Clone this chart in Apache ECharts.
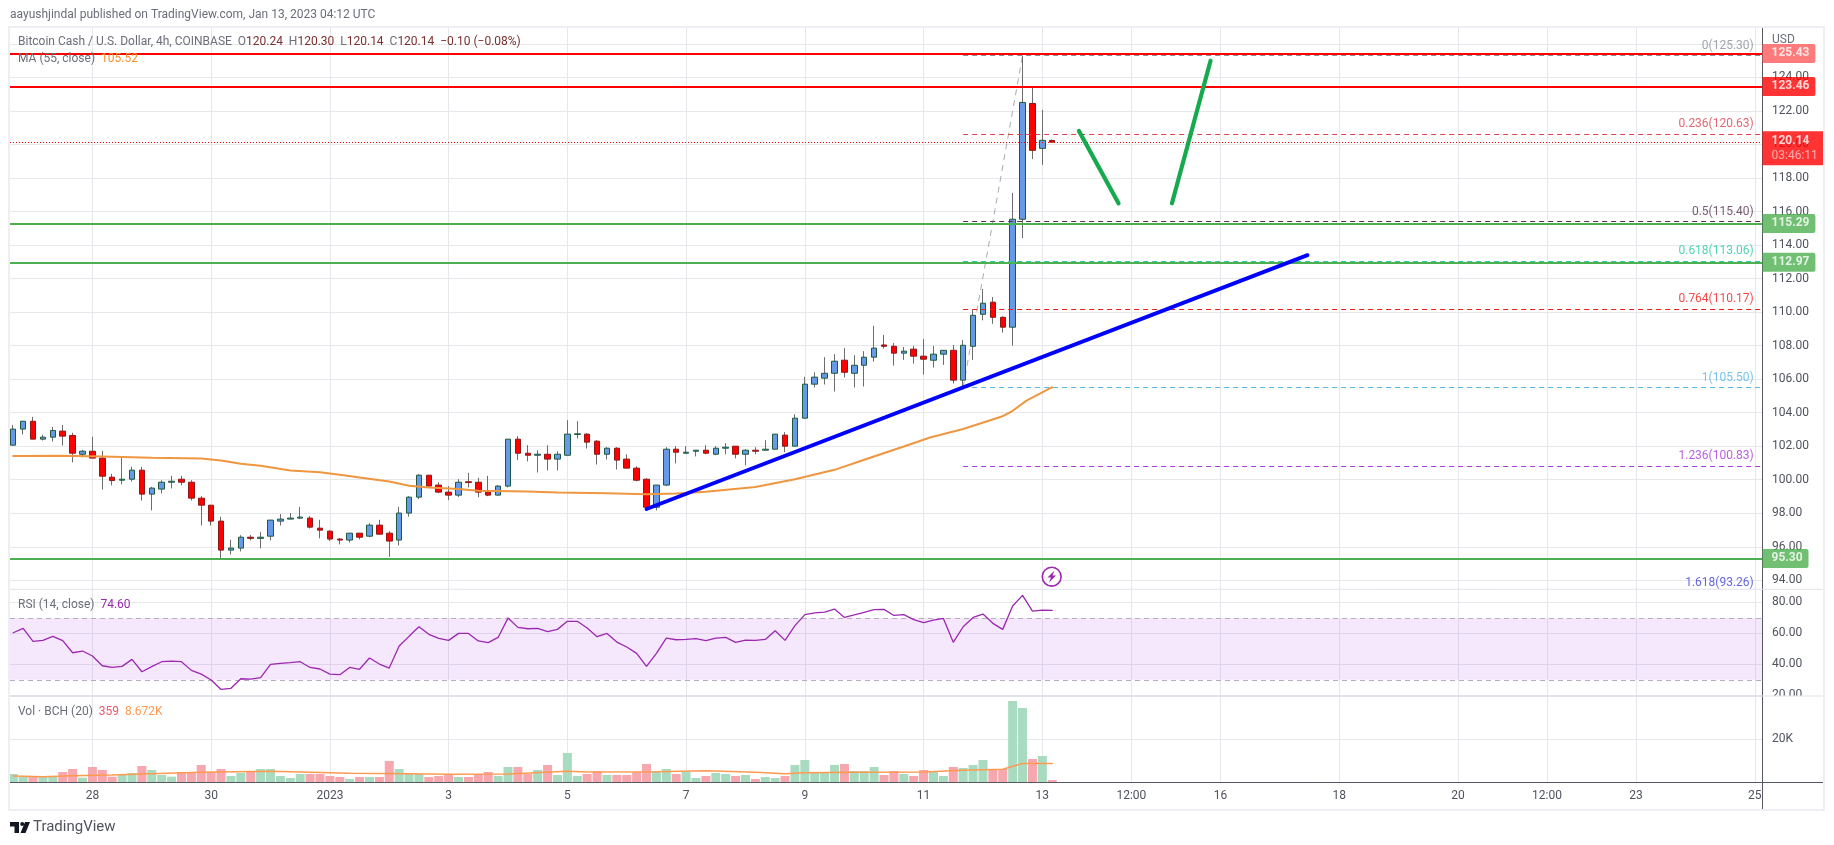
<!DOCTYPE html>
<html>
<head>
<meta charset="utf-8">
<title>BCH/USD 4h</title>
<style>
  html, body { margin: 0; padding: 0; background: #fff; }
  #chart { width: 1834px; height: 845px; }
</style>
<script src="https://cdn.jsdelivr.net/npm/echarts@6/dist/echarts.min.js"></script>
</head>
<body>
<div id="chart"></div>
<script>
// 4h candles, one row per bar
const opens = [102.06,103.02,103.49,102.42,102.54,102.90,102.64,101.52,101.70,101.29,100.15,99.97,100.03,100.57,99.14,99.44,99.85,100.03,99.85,98.90,98.48,97.53,95.80,95.92,96.57,96.50,96.63,97.53,97.65,97.71,97.71,97.11,96.93,96.46,96.40,96.81,96.63,97.29,96.81,96.40,98.01,98.96,100.27,99.68,99.26,99.08,99.88,99.85,99.26,99.08,99.62,102.42,101.58,101.46,101.52,101.23,101.46,102.70,102.72,102.30,101.52,101.88,101.23,100.69,100.03,98.36,99.68,101.82,101.58,101.70,101.76,101.52,101.88,102.00,101.52,101.76,101.76,101.82,102.66,102.00,103.67,105.70,106.06,106.35,107.13,106.35,106.83,107.31,108.04,107.96,107.55,107.79,107.37,107.13,107.49,107.72,105.94,107.96,109.87,110.59,109.69,109.10,115.54,122.45,119.77,120.24];
const highs = [103.27,103.49,103.75,102.68,103.15,103.27,102.80,101.78,102.56,101.72,100.35,101.33,100.77,100.77,99.58,99.97,100.23,100.23,99.97,99.02,98.48,97.79,96.42,96.69,96.71,96.87,97.59,97.95,98.01,98.38,97.83,97.61,96.99,96.51,96.81,96.81,97.41,97.61,96.93,98.38,99.02,100.33,100.27,99.85,99.62,100.03,100.41,100.11,100.23,99.68,102.42,102.60,102.06,101.76,102.06,101.70,103.55,103.49,102.78,102.36,101.94,101.94,101.52,100.81,100.09,99.68,101.94,102.00,102.00,101.76,102.06,102.00,102.18,102.00,101.82,101.94,102.36,102.72,102.84,103.91,106.14,106.41,107.31,107.49,107.85,107.43,107.67,109.18,108.64,108.16,107.92,107.98,108.40,107.98,107.72,108.04,108.34,110.13,111.38,110.90,109.75,117.11,125.30,123.45,122.06,120.30];
const lows = [102.06,102.70,102.42,102.34,102.28,102.04,101.03,101.33,101.29,99.42,99.66,99.72,99.89,98.76,98.17,99.18,99.48,99.66,98.76,97.27,97.27,95.24,95.54,95.72,96.38,95.90,96.38,97.27,97.65,97.65,97.09,96.50,96.34,96.14,96.26,96.44,96.57,96.75,95.40,96.08,97.79,98.84,99.62,99.20,98.78,98.96,99.54,98.96,99.02,99.08,99.54,101.17,101.09,100.43,100.55,100.55,101.46,102.46,101.86,100.91,101.21,100.61,100.69,99.91,98.36,98.17,99.62,100.97,101.56,101.39,101.52,101.46,101.52,101.27,100.85,101.52,101.76,101.82,101.64,102.00,103.67,105.50,105.68,105.26,106.10,105.50,105.56,107.05,107.82,106.81,107.15,106.93,106.27,106.69,106.85,105.74,105.50,107.15,109.51,109.30,108.78,108.00,114.42,119.13,118.78,120.14];
const closes = [103.02,103.49,102.42,102.54,102.94,102.60,101.58,101.70,101.29,100.21,99.95,100.03,100.57,99.14,99.50,99.85,99.91,99.85,98.90,98.48,97.53,95.80,95.92,96.57,96.50,96.57,97.59,97.65,97.71,97.77,97.17,96.99,96.46,96.40,96.81,96.57,97.29,96.75,96.34,98.01,98.96,100.27,99.62,99.26,99.08,99.85,99.83,99.26,99.08,99.62,102.42,101.58,101.46,101.52,101.23,101.52,102.72,102.74,102.24,101.52,101.88,101.17,100.69,99.97,98.36,99.68,101.82,101.64,101.64,101.76,101.58,101.88,101.94,101.52,101.76,101.70,101.82,102.72,102.00,103.67,105.70,106.12,106.35,107.07,106.41,106.83,107.31,107.85,107.96,107.55,107.67,107.37,107.19,107.49,107.72,105.94,108.02,109.81,110.53,109.69,109.10,115.54,122.51,119.65,120.25,120.14];
const volumes = [3750,2500,2500,2500,2500,4680,6090,2030,7030,5620,2500,3280,4220,7490,5620,3280,2500,4680,4680,7960,4680,6090,2810,4220,5150,6090,6090,2810,1870,3750,3750,3750,2810,2340,1400,2340,2340,2340,9840,6090,3750,3750,2340,2810,3750,2340,2340,3750,4680,2810,7030,7030,3750,5620,7960,3280,13580,2810,3750,5150,3280,3280,3280,4680,8430,5150,6090,3750,4680,1870,2810,4220,3750,2810,3280,1400,2340,1870,2810,7960,10300,4220,4220,7960,8430,5150,5150,7030,3280,5150,3750,2810,5620,5150,2810,7030,6560,7960,10300,6090,6090,37940,34660,10770,12180,940];
const rsiValues = [60.4,63.2,54.8,55.5,58.1,55.3,47.5,48.6,45.4,39.1,38.0,38.7,43.2,35.2,38.5,41.7,42.1,41.7,36.1,33.7,29.9,23.8,24.5,30.7,30.5,31.4,40.0,40.6,41.1,41.7,38.0,37.0,33.7,33.3,38.0,36.8,44.1,40.2,37.6,51.8,58.1,64.3,59.4,56.8,55.5,60.0,60.0,55.1,54.0,57.4,69.9,63.9,63.0,63.2,61.1,62.6,67.8,67.8,63.5,57.9,60.0,54.4,51.2,47.1,38.7,47.1,57.0,55.9,56.1,56.6,55.3,57.0,57.4,54.2,55.7,55.5,56.1,61.7,55.5,65.0,72.1,73.2,73.8,75.7,70.3,71.9,73.6,75.3,75.5,71.6,72.1,68.9,66.9,68.6,69.7,54.2,64.3,70.3,72.5,66.5,62.6,77.7,84.6,74.4,75.1,74.9];

// moving averages, read at the bends only
const maIdx = [0,5,9,14,19,21,23,25,28,31,33,35,38,40,42,45,47,52,55,60,64,67,70,75,79,83,86,90,92.65,96,99.9,100.9,102.4,105];
const maValues = [101.41,101.43,101.39,101.31,101.27,101.15,100.95,100.83,100.55,100.45,100.29,100.13,99.89,99.64,99.54,99.44,99.34,99.30,99.24,99.20,99.14,99.18,99.28,99.56,100.03,100.59,101.19,101.98,102.52,103.03,103.77,104.07,104.72,105.52];
const volMaIdx = [0,3,6,10,13,19,26,30,34,40,44,50,56,58,65,70,75,78,80,85,92,96,100,102,105];
const volMaValues = [2810,2500,2970,3280,3750,4530,5000,4530,4060,3900,3590,3750,5000,4680,4840,5310,4530,3900,4370,4530,4680,5460,5930,8672,8672];

// axes
const priceTicks = [126,124,122,120,118,116,114,112,110,108,106,104,102,100,98,96,94];
const rsiTicks = [80,60,40,20];
const volTicks = [20000];
const timeTickIdx = [8,20,32,44,56,68,80,92,104,113,122,134,146,155,164,176];
const timeTickLabels = ['28','30','2023','3','5','7','9','11','13','12:00','16','18','20','12:00','23','25'];

// drawings on the price pane
const resistLevels = [125.43,123.46];
const supportLevels = [115.29,112.97,95.30];
const lastPrice = 120.14;
const fibRatios = ['0','0.236','0.5','0.618','0.764','1','1.236','1.618'];
const fibPrices = [125.30,120.63,115.40,113.06,110.17,105.50,100.83,93.26];
const fibColors = ['#8a8d96','#e0404e','#55304f','#27c9a0','#f01c1c','#56b4e0','#a838d8','#3f3fd8'];
const fibTrend = [[96,105.50],[102,125.30]];
const blueTrend = [[64,98.25],[130.8,113.4]];
const arrowDown = [[107.7,120.81],[111.7,116.49]];
const arrowUp = [[117.1,116.49],[121,125.0]];

const xMin = -0.328, xMax = 176.73;
const fibLabelX = 175.95;
const gridColor = '#e7e8ec';
const textColor = '#50535e';
const font = 'Roboto';
const FS = 12;
const GREEN = '#4caf50', RED = '#ff0000';

const n = opens.length;
const wickData = [], bodyData = [], volData = [];
for (let i = 0; i < n; i++) {
    wickData.push([i, opens[i], closes[i], lows[i], highs[i]]);
    bodyData.push([i, opens[i], closes[i], Math.min(opens[i], closes[i]), Math.max(opens[i], closes[i])]);
    volData.push({
        value: [i, volumes[i]],
        itemStyle: { color: closes[i] >= opens[i] ? '#a9dbc1' : '#f7a7ae' }
    });
}

function xAxisFor(gridIndex, withLabels) {
    return {
        type: 'value', gridIndex: gridIndex, min: xMin, max: xMax,
        axisLine: { show: withLabels, onZero: false, lineStyle: { color: '#555860', width: 1 } },
        axisTick: { show: false, customValues: timeTickIdx },
        splitLine: { show: true, lineStyle: { color: gridColor, width: 1 } },
        axisLabel: {
            show: withLabels, customValues: timeTickIdx, margin: 8,
            color: textColor, fontFamily: font, fontSize: FS,
            formatter: v => timeTickLabels[timeTickIdx.indexOf(v)]
        }
    };
}
function yAxisFor(gridIndex, min, max, ticks, fmt) {
    return {
        type: 'value', gridIndex: gridIndex, position: 'right', min: min, max: max,
        axisLine: { show: true, onZero: false, lineStyle: { color: '#555860', width: 1 } },
        axisTick: { show: false, customValues: ticks },
        splitLine: { show: true, lineStyle: { color: gridColor, width: 1 } },
        axisLabel: {
            customValues: ticks, margin: 10, color: textColor,
            fontFamily: font, fontSize: FS, formatter: fmt
        }
    };
}
// price tag sitting on the axis
function tag(value, color) {
    return {
        value: [xMax, value],
        label: {
            show: true, position: 'right', distance: 0,
            formatter: value.toFixed(2), color: '#fff', fontFamily: font, fontSize: FS, fontWeight: 'bold',
            backgroundColor: color, padding: [4, 6, 3, 9], borderRadius: [0, 2, 2, 0]
        }
    };
}
function plainLine(data, color, width, extra) {
    return Object.assign({
        type: 'line', data: data, symbol: 'none', silent: true,
        lineStyle: { color: color, width: width, cap: 'round' }
    }, extra || {});
}

const hLevels = [];
resistLevels.forEach(v => hLevels.push({ yAxis: v, lineStyle: { color: RED, width: 2, type: 'solid' } }));
supportLevels.forEach(v => hLevels.push({ yAxis: v, lineStyle: { color: GREEN, width: 2, type: 'solid' } }));
hLevels.push({ yAxis: lastPrice, lineStyle: { color: RED, width: 1, type: [1, 2] } });

const fibLines = fibPrices.slice(0, -1).map((v, k) => [
    { coord: [96, v], lineStyle: { color: fibColors[k], width: 1, type: [5, 4] } },
    { coord: [xMax, v] }
]);
const fibLabels = fibPrices.map((v, k) => ({
    value: [fibLabelX, v],
    label: {
        show: true, position: 'left', distance: 0, offset: [0, -10],
        formatter: fibRatios[k] + '(' + v.toFixed(2) + ')',
        color: fibColors[k], fontFamily: font, fontSize: FS
    }
}));

const tags = [
    tag(resistLevels[0], '#ff5a5a'), tag(resistLevels[1], RED),
    tag(supportLevels[0], GREEN), tag(supportLevels[1], GREEN), tag(supportLevels[2], GREEN),
    {
        value: [xMax, lastPrice],
        label: {
            show: true, position: 'right', distance: 0, offset: [0, 6],
            formatter: '{a|' + lastPrice.toFixed(2) + '}\n{b|03:46:11}',
            backgroundColor: RED, padding: [2, 6, 2, 9],
            rich: {
                a: { color: '#fff', fontFamily: font, fontSize: FS, fontWeight: 'bold', lineHeight: 15 },
                b: { color: '#ffc9c9', fontFamily: font, fontSize: FS, lineHeight: 15 }
            }
        }
    }
];

function legend(x, y, text, rich) {
    return { type: 'text', x: x, y: y, z: 50, silent: true,
        style: { text: text, fontFamily: font, fontSize: FS, fill: '#6b6e78', verticalAlign: 'middle', rich: rich } };
}
const o = { fill: '#7a2f2f', fontFamily: font, fontSize: FS };
function hline(x1, x2, y, color, width) {
    return { type: 'line', z: 40, silent: true, shape: { x1: x1, y1: y, x2: x2, y2: y },
        style: { stroke: color, lineWidth: width } };
}

const option = {
    animation: false,
    backgroundColor: '#fff',
    grid: [
        { left: 10, right: 72, top: 28, height: 561 },
        { left: 10, right: 72, top: 589.3, height: 106.3 },
        { left: 10, right: 72, top: 696, height: 86 }
    ],
    xAxis: [xAxisFor(0, false), xAxisFor(1, false), xAxisFor(2, true)],
    yAxis: [
        yAxisFor(0, 93.48, 126.95, priceTicks, v => v === 126 ? '' : v.toFixed(2)),
        yAxisFor(1, 19.8, 88.5, rsiTicks, v => v.toFixed(2)),
        yAxisFor(2, 0, 40280, volTicks, v => (v / 1000) + 'K')
    ],
    series: [
        plainLine(fibTrend, '#a9abb2', 1, {
            z: 2, lineStyle: { color: '#a9abb2', width: 1, type: [6, 5] },
            markLine: { symbol: 'none', silent: true, animation: false, label: { show: false }, data: fibLines }
        }),
        {
            type: 'candlestick', data: wickData, barWidth: 1, z: 3, silent: true,
            itemStyle: { color: '#6d6d6d', color0: '#6d6d6d', borderColor: '#6d6d6d', borderColor0: '#6d6d6d', borderWidth: 1 }
        },
        {
            type: 'candlestick', data: bodyData, barWidth: 6, z: 4, silent: true,
            itemStyle: { color: '#6699e8', color0: '#ff0000', borderColor: '#1f5a3e', borderColor0: '#8c1a1a', borderWidth: 1 }
        },
        plainLine(maIdx.map((x, k) => [x, maValues[k]]), '#ee9640', 2, {
            z: 5,
            markLine: { symbol: 'none', silent: true, animation: false, label: { show: false }, data: hLevels, z: 6 }
        }),
        plainLine(blueTrend, '#0000ff', 3.8, { z: 7 }),
        plainLine(arrowDown, '#17a94e', 4.2, { z: 7 }),
        plainLine(arrowUp, '#17a94e', 4.2, { z: 7 }),
        {
            type: 'scatter', data: fibLabels, symbolSize: 1, clip: false, z: 8, silent: true,
            itemStyle: { color: 'transparent' }
        },
        {
            type: 'scatter', data: tags, symbolSize: 1, clip: false, z: 9, silent: true,
            itemStyle: { color: 'transparent' }
        },
        plainLine(rsiValues.map((v, i) => [i, v]), '#9c27b0', 1.3, {
            xAxisIndex: 1, yAxisIndex: 1, z: 5,
            markArea: { silent: true, itemStyle: { color: 'rgba(160,50,240,0.11)' }, data: [[{ yAxis: 30 }, { yAxis: 70 }]] },
            markLine: {
                symbol: 'none', silent: true, animation: false, label: { show: false },
                lineStyle: { color: '#b9acc0', width: 1, type: [5, 4] },
                data: [{ yAxis: 70 }, { yAxis: 30 }]
            }
        }),
        {
            type: 'bar', data: volData, barWidth: 9, xAxisIndex: 2, yAxisIndex: 2, z: 3, silent: true
        },
        plainLine(volMaIdx.map((x, k) => [x, volMaValues[k]]), '#ff9a50', 1.5, { xAxisIndex: 2, yAxisIndex: 2, z: 4 })
    ],
    graphic: [
        { type: 'rect', z: 39, silent: true, shape: { x: 9, y: 27, width: 1815, height: 783 },
          style: { fill: 'none', stroke: '#eeeff4', lineWidth: 2 } },
        // cuts the 20.00 label at the pane edge
        { type: 'rect', z: 38, silent: true, shape: { x: 1763, y: 696, width: 60, height: 12 }, style: { fill: '#fff' } },
        hline(10, 1823, 589.3, '#e2e3ea', 1),
        hline(10, 1762, 696, '#e2e3ea', 2),
        hline(1762, 1823, 696, '#e2e3ea', 1),
        hline(1762, 1823, 782.5, '#555860', 1),
        { type: 'line', z: 40, silent: true, shape: { x1: 1762.5, y1: 782, x2: 1762.5, y2: 809 }, style: { stroke: '#555860', lineWidth: 1 } },

        legend(10, 15, 'aayushjindal published on TradingView.com, Jan 13, 2023 04:12 UTC'),
        legend(18, 42, 'Bitcoin Cash / U.S. Dollar, 4h, COINBASE  O{v|120.24}  H{v|120.30}  L{v|120.14}  C{v|120.14}  {v|\u22120.10 (\u22120.08%)}', { v: o }),
        legend(18, 59, 'MA (55, close)  {v|105.52}', { v: { fill: '#f5922f', fontFamily: font, fontSize: FS } }),
        legend(18, 605, 'RSI (14, close)  {v|74.60}', { v: { fill: '#9c27b0', fontFamily: font, fontSize: FS } }),
        legend(18, 712, 'Vol \u00b7 BCH (20)  {r|359}  {o|8.672K}', {
            r: { fill: '#f0566a', fontFamily: font, fontSize: FS },
            o: { fill: '#ff9a50', fontFamily: font, fontSize: FS }
        }),
        legend(1772, 40, 'USD'),

        // lightning mark above the RSI pane
        { type: 'circle', z: 30, silent: true, shape: { cx: 1051.7, cy: 576.7, r: 9.4 },
          style: { fill: '#fff', stroke: '#9c27b0', lineWidth: 1.6 } },
        { type: 'polygon', z: 31, silent: true,
          shape: { points: [[1054.5, 570.5], [1047.5, 577.5], [1051, 577.5], [1049, 582.8], [1056, 575.5], [1052.5, 575.5]] },
          style: { fill: '#9c27b0' } },

        // TradingView footer
        { type: 'polygon', z: 31, silent: true,
          shape: { points: [[10, 822], [19, 822], [19, 833], [14.5, 833], [14.5, 826.5], [10, 826.5]] },
          style: { fill: '#131722' } },
        { type: 'circle', z: 31, silent: true, shape: { cx: 22.2, cy: 824, r: 2 }, style: { fill: '#131722' } },
        { type: 'polygon', z: 31, silent: true,
          shape: { points: [[25, 822], [30, 822], [25.5, 833], [20.5, 833]] },
          style: { fill: '#131722' } },
        { type: 'text', x: 33, y: 827, z: 31, silent: true,
          style: { text: 'TradingView', fontFamily: font, fontSize: 15, fill: '#50535e', verticalAlign: 'middle' } }
    ]
};

const chart = echarts.init(document.getElementById('chart'));
chart.setOption(option);
</script>
</body>
</html>
